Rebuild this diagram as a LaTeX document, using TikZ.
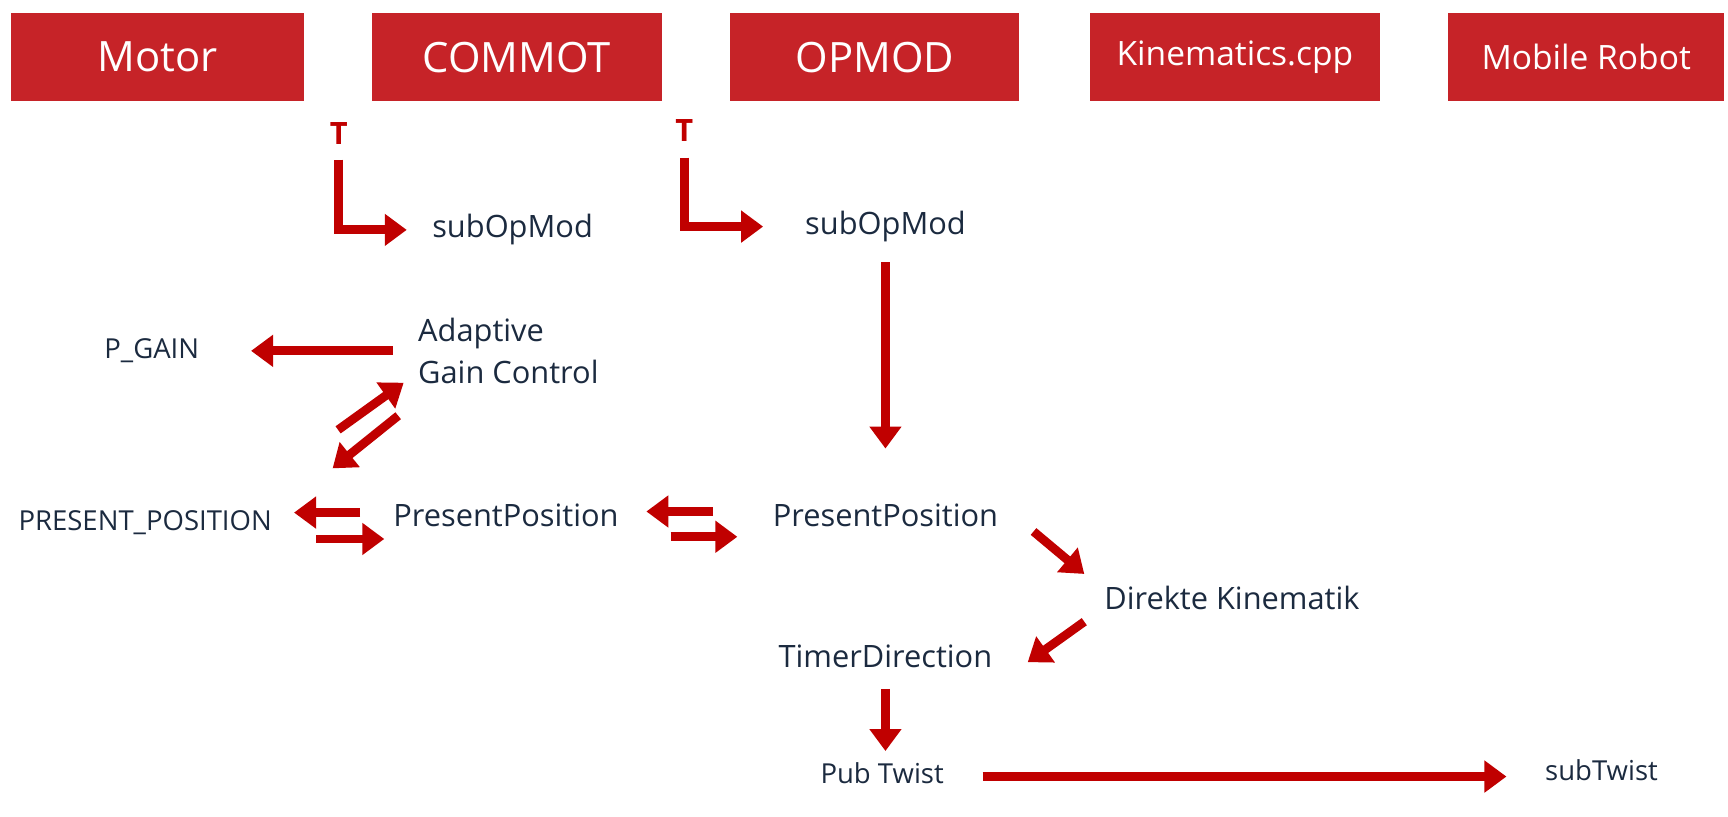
\documentclass[tikz,border=0pt]{standalone}
\usepackage{fontspec}
\setmainfont{Open Sans}
\usetikzlibrary{arrows.meta,positioning}
\definecolor{hred}{HTML}{C62328}
\definecolor{ared}{HTML}{C00000}
\definecolor{ink}{HTML}{1B2A3F}

\begin{document}
\begin{tikzpicture}[x=1pt,y=-1pt,
  hdr/.style={fill=hred,text=white,minimum height=80pt,inner sep=0pt,font=\fontsize{38}{46}\selectfont},
  hdrs/.style={hdr,font=\fontsize{30.5}{36}\selectfont},
  lbl/.style={text=ink,inner sep=0pt,font=\fontsize{28}{38}\selectfont,text height=21pt,text depth=7pt},
  sml/.style={text=ink,inner sep=0pt,font=\fontsize{25}{30}\selectfont,text height=18pt,text depth=6pt},
  tlbl/.style={text=ared,inner sep=0pt,font=\fontsize{28}{34}\selectfont\bfseries},
  arr/.style={draw=ared,line width=8pt,-{Triangle[length=20pt,width=28pt]}}]
\useasboundingbox (0,0) rectangle (1571,742);
% header row
\node [hdr,minimum width=266pt] (mot) at (143,52) {Motor};
\node [hdr,minimum width=263pt,right=62pt of mot] (com) {COMMOT};
\node [hdr,minimum width=263pt,right=62pt of com] (opm) {OPMOD};
\node [hdrs,minimum width=263pt,right=64pt of opm] (kin) {Kinematics.cpp};
\node [hdrs,minimum width=251pt,right=62pt of kin] (rob) {Mobile Robot};
% labels
\node [tlbl] (t1) at (308,121) {T};
\node [tlbl] (t2) at (622,119) {T};
\node [lbl] (so1) at (466,209) {subOpMod};
\node [lbl] (so2) at (805,206) {subOpMod};
\node [lbl,text height=,text depth=,align=left,anchor=north west] (agc) at (380,289) {Adaptive\\Gain Control};
\node [sml] (pg) at (138,320) {P\_GAIN};
\node [sml] (pp) at (132,476) {PRESENT\_POSITION};
\node [lbl] (p1) at (460,472) {PresentPosition};
\node [lbl] (p2) at (805,472) {PresentPosition};
\node [lbl] (dk) at (1120,547) {Direkte Kinematik};
\node [lbl] (td) at (805,600) {TimerDirection};
\node [sml] (pt) at (802,706) {Pub Twist};
\node [sml] (st) at (1456,704) {subTwist};
% arrows
\draw [arr,shorten <=14pt,shorten >=23pt] (t1) |- (so1);
\draw [arr,shorten <=14pt,shorten >=38pt] (t2) |- (so2);
\draw [arr,shorten <=18pt,shorten >=50pt] (so2) -- (p2);
\draw [arr,shorten <=23pt,shorten >=47pt] (agc.west) -- (agc.west -| pg.east);
\draw [arr] ([shift={(-50,-67)}]p1.north west) -- ([shift={(-13,-1)}]agc.south west);
\draw [arr] ([shift={(-18,29)}]agc.south west) -- ([shift={(-55,-32)}]p1.north west);
\draw [arr] ([shift={(-30,-6)}]p1.west) -- ([shift={(20,-10)}]pp.east);
\draw [arr] ([shift={(40,14)}]pp.east) -- ([shift={(-8,18)}]p1.west);
\draw [arr] ([shift={(-54,-7)}]p2.west) -- ([shift={(25,-7)}]p1.east);
\draw [arr] ([shift={(47,16)}]p1.east) -- ([shift={(-32,16)}]p2.west);
\draw [arr] ([shift={(32,-3)}]p2.south east) -- ([shift={(-18,-11)}]dk.north west);
\draw [arr] ([shift={(-18,4)}]dk.south west) -- ([shift={(32,2)}]td.east);
\draw [arr,shorten <=12pt,shorten >=11pt] (td.south) -- (td.south |- pt.north);
\draw [arr,shorten <=35pt,shorten >=35pt] (pt) -- (pt -| st.west);
\end{tikzpicture}
\end{document}
